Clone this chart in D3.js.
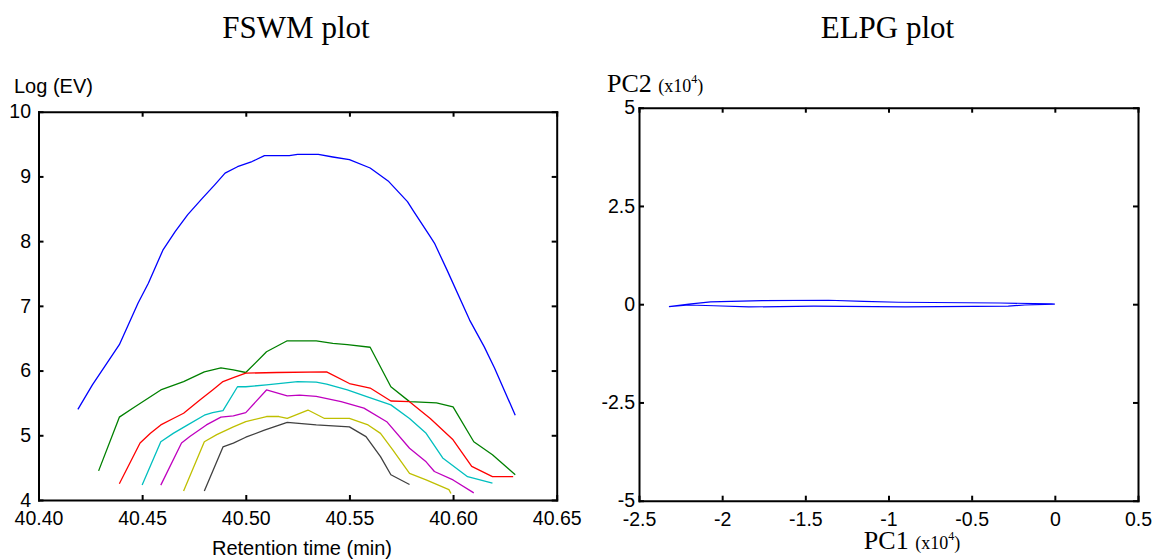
<!DOCTYPE html>
<html>
<head>
<meta charset="utf-8">
<script src="https://cdn.jsdelivr.net/npm/d3@7"></script>
<style>
  html, body { margin: 0; padding: 0; background: #fff; }
  svg { display: block; }
  .ax path, .ax line { stroke: #000; }
  .ax text { font-family: "Liberation Sans", Arial, sans-serif; font-size: 19.5px; fill: #000; }
</style>
</head>
<body>
<svg id="chart" width="1157" height="559"></svg>
<script>
// ---------- FSWM plot data (retention time in min, Log(EV)) ----------
const fswmXTicks = [40.40, 40.45, 40.50, 40.55, 40.60, 40.65];
const fswmYTicks = [4, 5, 6, 7, 8, 9, 10];

const blueT = [40.419, 40.426, 40.439, 40.448, 40.453, 40.460, 40.466, 40.472, 40.479, 40.485, 40.490, 40.496, 40.503, 40.509, 40.521, 40.525, 40.535, 40.542, 40.550, 40.560, 40.569, 40.578, 40.581, 40.589, 40.591, 40.597, 40.608, 40.615, 40.620, 40.630];
const blueV = [5.40, 5.78, 6.40, 7.04, 7.35, 7.86, 8.15, 8.41, 8.66, 8.87, 9.05, 9.15, 9.23, 9.32, 9.32, 9.34, 9.34, 9.30, 9.26, 9.13, 8.92, 8.61, 8.46, 8.07, 7.97, 7.56, 6.78, 6.37, 6.04, 5.31];

const greenT = [40.429, 40.439, 40.446, 40.459, 40.470, 40.480, 40.488, 40.494, 40.500, 40.510, 40.520, 40.534, 40.542, 40.549, 40.560, 40.570, 40.579, 40.592, 40.600, 40.610, 40.619, 40.630];
const greenV = [4.45, 5.28, 5.43, 5.70, 5.83, 5.98, 6.04, 6.01, 5.97, 6.29, 6.46, 6.46, 6.42, 6.40, 6.36, 5.75, 5.52, 5.50, 5.44, 4.90, 4.70, 4.39];

const redT = [40.439, 40.449, 40.454, 40.459, 40.465, 40.470, 40.478, 40.484, 40.489, 40.494, 40.500, 40.515, 40.539, 40.550, 40.560, 40.570, 40.579, 40.589, 40.600, 40.609, 40.619, 40.629];
const redV = [4.25, 4.88, 5.03, 5.16, 5.26, 5.34, 5.55, 5.70, 5.83, 5.89, 5.96, 5.97, 5.98, 5.80, 5.73, 5.53, 5.52, 5.26, 4.93, 4.52, 4.36, 4.36];

const cyanT = [40.450, 40.459, 40.465, 40.472, 40.480, 40.484, 40.489, 40.496, 40.500, 40.510, 40.525, 40.534, 40.539, 40.549, 40.558, 40.570, 40.579, 40.587, 40.595, 40.607, 40.619];
const cyanV = [4.23, 4.90, 5.03, 5.16, 5.31, 5.35, 5.38, 5.75, 5.75, 5.78, 5.83, 5.82, 5.79, 5.70, 5.60, 5.47, 5.26, 5.03, 4.65, 4.36, 4.26];

const magentaT = [40.459, 40.469, 40.473, 40.481, 40.488, 40.494, 40.500, 40.510, 40.520, 40.526, 40.534, 40.546, 40.557, 40.568, 40.579, 40.587, 40.591, 40.600, 40.610];
const magentaV = [4.23, 4.88, 4.98, 5.16, 5.28, 5.30, 5.35, 5.70, 5.61, 5.62, 5.60, 5.52, 5.42, 5.21, 4.80, 4.59, 4.44, 4.31, 4.11];

const yellowT = [40.470, 40.480, 40.486, 40.494, 40.500, 40.510, 40.516, 40.520, 40.530, 40.538, 40.550, 40.559, 40.565, 40.571, 40.579, 40.587, 40.598, 40.599];
const yellowV = [4.14, 4.90, 5.01, 5.13, 5.21, 5.29, 5.29, 5.26, 5.39, 5.26, 5.26, 5.16, 5.03, 4.77, 4.41, 4.31, 4.16, 4.10];

const grayT = [40.480, 40.489, 40.494, 40.500, 40.509, 40.520, 40.534, 40.550, 40.558, 40.565, 40.570, 40.579];
const grayV = [4.14, 4.82, 4.88, 4.97, 5.08, 5.20, 5.16, 5.13, 4.98, 4.67, 4.39, 4.24];

const fswmSeries = [
  { name: "blue", color: "#0000ff", t: blueT, v: blueV },
  { name: "green", color: "#008000", t: greenT, v: greenV },
  { name: "red", color: "#ff0000", t: redT, v: redV },
  { name: "cyan", color: "#00bfbf", t: cyanT, v: cyanV },
  { name: "magenta", color: "#bf00bf", t: magentaT, v: magentaV },
  { name: "yellow", color: "#bfbf00", t: yellowT, v: yellowV },
  { name: "gray", color: "#404040", t: grayT, v: grayV }
];

// ---------- ELPG plot data (PC1, PC2 in x10^4) ----------
const elpgXTicks = [-2.5, -2, -1.5, -1, -0.5, 0, 0.5];
const elpgYTicks = [-5, -2.5, 0, 2.5, 5];
const pc1Loop = [-2.32, -2.20, -2.07, -1.76, -1.36, -1.15, -0.94, -0.33, -0.02, 0.00, -0.18, -0.28, -0.90, -1.45, -1.84, -2.05, -2.20, -2.32];
const pc2Loop = [-0.06, 0.00, 0.06, 0.09, 0.10, 0.07, 0.05, 0.03, 0.01, 0.00, -0.02, -0.05, -0.07, -0.05, -0.07, -0.04, -0.02, -0.06];

const svg = d3.select("#chart");
const fmt2 = d3.format(".2f");
const fmtElpg = d => String(d).replace("\u2212", "-");

// ---------------- Left: FSWM plot ----------------
const L = { left: 38.5, right: 556.7, top: 111.7, bottom: 500 };
const xL = d3.scaleLinear().domain([40.40, 40.65]).range([L.left, L.right]);
const yL = d3.scaleLinear().domain([4, 10]).range([L.bottom, L.top]);

const gL = svg.append("g");

const lineL = d3.line().x(d => xL(d[0])).y(d => yL(d[1]));
fswmSeries.forEach(s => {
  gL.append("path")
    .datum(d3.zip(s.t, s.v))
    .attr("fill", "none")
    .attr("stroke", s.color)
    .attr("stroke-width", 1.3)
    .attr("stroke-linejoin", "round")
    .attr("d", lineL);
});

function boxAxes(g, x, y, B, xTicks, yTicks, xFmt, yFmt, yPad) {
  g.append("g").attr("class", "ax").attr("transform", `translate(0,${B.bottom})`)
    .call(d3.axisBottom(x).tickValues(xTicks).tickFormat(xFmt).tickSizeInner(-5).tickSizeOuter(0).tickPadding(11))
    .call(a => a.selectAll("path,line").attr("stroke-width", 2));
  g.append("g").attr("class", "ax").attr("transform", `translate(0,${B.top})`)
    .call(d3.axisTop(x).tickValues(xTicks).tickFormat("").tickSizeInner(-5).tickSizeOuter(0))
    .call(a => a.selectAll("path,line").attr("stroke-width", 2));
  g.append("g").attr("class", "ax").attr("transform", `translate(${B.left},0)`)
    .call(d3.axisLeft(y).tickValues(yTicks).tickFormat(yFmt).tickSizeInner(-5).tickSizeOuter(0).tickPadding(yPad))
    .call(a => a.selectAll("path,line").attr("stroke-width", 2));
  g.append("g").attr("class", "ax").attr("transform", `translate(${B.right},0)`)
    .call(d3.axisRight(y).tickValues(yTicks).tickFormat("").tickSizeInner(-5).tickSizeOuter(0))
    .call(a => a.selectAll("path,line").attr("stroke-width", 2));
  g.selectAll(".ax .domain").attr("stroke-linecap", "square");
}

boxAxes(gL, xL, yL, L, fswmXTicks, fswmYTicks, d => fmt2(d), d => String(d), 7.5);

gL.append("text")
  .attr("x", 296).attr("y", 37.7)
  .attr("text-anchor", "middle")
  .style("font-family", "'Liberation Serif', 'Times New Roman', serif")
  .style("font-size", "31px")
  .text("FSWM plot");

gL.append("text")
  .attr("x", 14).attr("y", 93.3)
  .style("font-family", "'Liberation Sans', Arial, sans-serif")
  .style("font-size", "20px")
  .text("Log (EV)");

gL.append("text")
  .attr("x", 302).attr("y", 555)
  .attr("text-anchor", "middle")
  .style("font-family", "'Liberation Sans', Arial, sans-serif")
  .style("font-size", "20px")
  .text("Retention time (min)");

// ---------------- Right: ELPG plot ----------------
const R = { left: 639, right: 1138, top: 107.7, bottom: 500.7 };
const xR = d3.scaleLinear().domain([-2.5, 0.5]).range([R.left, R.right]);
const yR = d3.scaleLinear().domain([-5, 5]).range([R.bottom, R.top]);

const gR = svg.append("g");

gR.append("path")
  .datum(d3.zip(pc1Loop, pc2Loop))
  .attr("fill", "none")
  .attr("stroke", "#0000ff")
  .attr("stroke-width", 1.2)
  .attr("d", d3.line().x(d => xR(d[0])).y(d => yR(d[1])));

boxAxes(gR, xR, yR, R, elpgXTicks, elpgYTicks, d => String(d), d => String(d), 4);

gR.append("text")
  .attr("x", 887.5).attr("y", 37.7)
  .attr("text-anchor", "middle")
  .style("font-family", "'Liberation Serif', 'Times New Roman', serif")
  .style("font-size", "31px")
  .text("ELPG plot");

const pc2 = gR.append("text")
  .attr("x", 607).attr("y", 92.3)
  .style("font-family", "'Liberation Serif', 'Times New Roman', serif")
  .style("font-size", "26px");
pc2.append("tspan").text("PC2 ");
pc2.append("tspan").style("font-size", "18px").text("(x10");
pc2.append("tspan").style("font-size", "12px").attr("dy", -9).text("4");
pc2.append("tspan").style("font-size", "18px").attr("dy", 9).text(")");

const pc1 = gR.append("text")
  .attr("x", 912).attr("y", 549)
  .attr("text-anchor", "middle")
  .style("font-family", "'Liberation Serif', 'Times New Roman', serif")
  .style("font-size", "26px");
pc1.append("tspan").text("PC1 ");
pc1.append("tspan").style("font-size", "18px").text("(x10");
pc1.append("tspan").style("font-size", "12px").attr("dy", -9).text("4");
pc1.append("tspan").style("font-size", "18px").attr("dy", 9).text(")");
</script>
</body>
</html>
